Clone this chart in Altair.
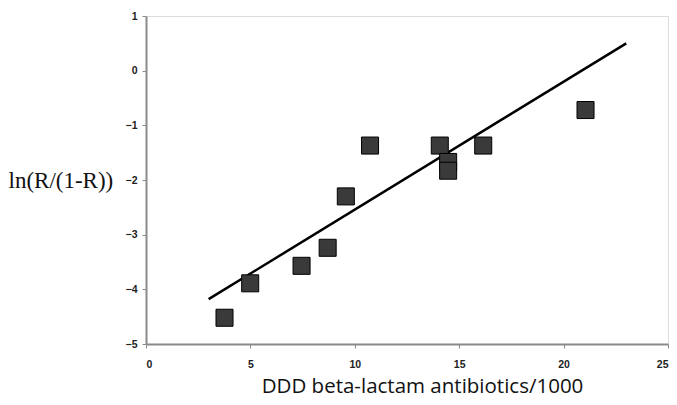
import altair as alt
import pandas as pd

# Data
ddd = [3.76, 4.99, 7.45, 8.70, 9.57, 10.73, 14.07, 14.47, 14.47, 16.15, 21.05]
logit_r = [-4.52, -3.89, -3.57, -3.24, -2.30, -1.37, -1.37, -1.67, -1.83, -1.37, -0.72]
fit_x = [3.0, 23.0]
fit_y = [-4.18, 0.50]
x_ticks = [0, 5, 10, 15, 20, 25]
y_ticks = [-5, -4, -3, -2, -1, 0, 1]

points = pd.DataFrame({"x": ddd, "y": logit_r})
fit = pd.DataFrame({"x": fit_x, "y": fit_y})

x_scale = alt.Scale(domain=[0, 25], nice=False, zero=False)
y_scale = alt.Scale(domain=[-5, 1], nice=False, zero=False)

x_axis = alt.Axis(
    values=x_ticks, grid=False, title="DDD beta-lactam antibiotics/1000", format="d",
    domainColor="#8a8a8a", domainWidth=2, tickColor="#8a8a8a", tickSize=4,
    labelFont="Liberation Sans", labelFontSize=10.5, labelFontWeight="bold",
    labelColor="#222222", labelPadding=11,
    titleFont="Open Sans", titleFontSize=20.5, titleFontWeight="normal",
    titleColor="#111111", titleX=276, titleY=42, titleBaseline="middle",
    titleAlign="center",
)
y_axis = alt.Axis(
    values=y_ticks, grid=False, title="ln(R/(1-R))", format="d",
    domainColor="#8a8a8a", domainWidth=2, tickColor="#8a8a8a", tickSize=4,
    labelFont="Liberation Sans", labelFontSize=10.5, labelFontWeight="bold",
    labelColor="#222222", labelPadding=5,
    titleFont="Liberation Serif", titleFontSize=23, titleFontWeight="normal",
    titleColor="#111111", titleAngle=0, titleAlign="left", titleBaseline="middle",
    titleX=-138, titleY=164,
)

line = alt.Chart(fit).mark_line(color="black", strokeWidth=2.5).encode(
    x=alt.X("x:Q", scale=x_scale, axis=x_axis),
    y=alt.Y("y:Q", scale=y_scale, axis=y_axis),
)
pts = alt.Chart(points).mark_point(
    shape="square", size=290, filled=True, fill="#3a3a3a", stroke="black",
    strokeWidth=1, opacity=1,
).encode(
    x=alt.X("x:Q", scale=x_scale),
    y=alt.Y("y:Q", scale=y_scale),
)

chart = alt.layer(line, pts).properties(
    width=661, height=389,
    autosize=alt.AutoSizeParams(type="fit", contains="padding"),
    padding={"left": 0, "top": 3, "right": 0, "bottom": 0},
).configure_view(stroke=None).configure(background="white")

chart.save("out.html", embed_options={"renderer": "svg", "actions": False})
